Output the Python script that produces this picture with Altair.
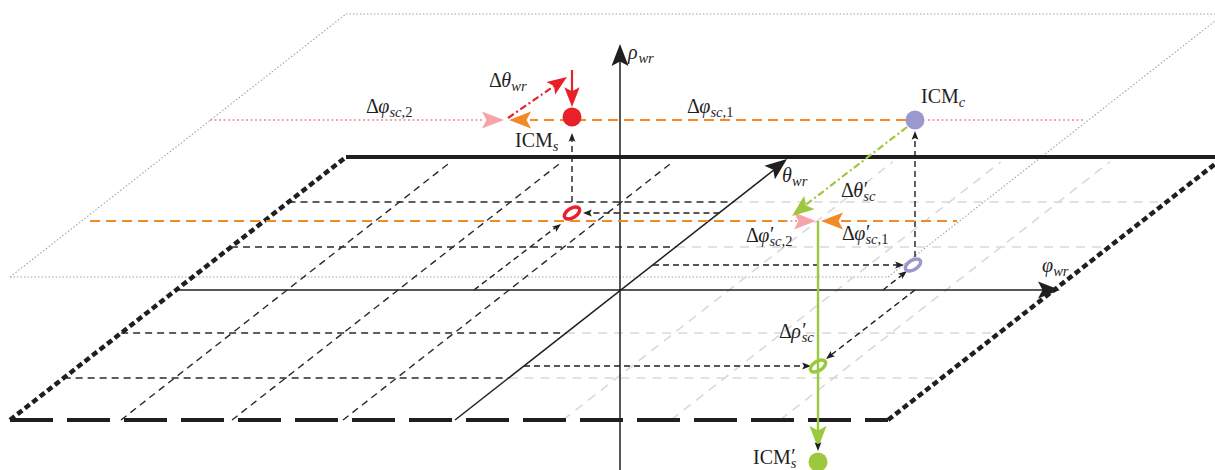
import math
import altair as alt
import pandas as pd

W, H = 1215, 470

# ---------------------------------------------------------------------------
# Geometry of the wrist frame (screen units, y grows downward)
# ---------------------------------------------------------------------------
DEPTH = (336, -263)            # full-depth step along the theta direction
NEAR_Y, FAR_Y = 420, 157       # near / far edge of the reference plane
NEAR_LEFT_X, NEAR_RIGHT_X = 10, 888
THETA_FOOT_X = 455             # theta axis meets the near edge here
UPPER_SHIFT = 143              # the dotted plane sits above the reference plane
ORIGIN = (620, 290)

GRID_Y = [202, 247, 333, 378]          # constant-theta lines
GRID_FOOT_DARK = [121, 232, 343]       # constant-phi lines, phi < 0
GRID_FOOT_LIGHT = [563, 671, 780]      # constant-phi lines, phi > 0

# points of interest
ICM_S = (572, 117)
ICM_C = (915, 120)
ICM_S2 = (818, 462)
RING_S = (572, 213)
RING_C = (913, 265)
RING_S2 = (818, 366)

UPPER_LEVEL_Y = 120
LOWER_LEVEL_Y = 221


def along(x_foot, y):
    """x of a theta-parallel line (foot on the near edge) at height y."""
    return x_foot + DEPTH[0] * (NEAR_Y - y) / -DEPTH[1]


segments = []


def seg(style, x, y, x2, y2):
    segments.append(dict(style=style, x=x, y=y, x2=x2, y2=y2))


# dotted upper plane
uy_near, uy_far = NEAR_Y - UPPER_SHIFT, FAR_Y - UPPER_SHIFT
seg("upper", NEAR_LEFT_X, uy_near, NEAR_LEFT_X + DEPTH[0], uy_far)
seg("upper", NEAR_LEFT_X + DEPTH[0], uy_far, W + 20, uy_far)
seg("upper", NEAR_LEFT_X, uy_near, NEAR_RIGHT_X, uy_near)
seg("upper", NEAR_RIGHT_X, uy_near, NEAR_RIGHT_X + DEPTH[0], uy_far)

# grid of the reference plane
for gy in GRID_Y:
    seg("grid_dark", along(NEAR_LEFT_X, gy), gy, along(THETA_FOOT_X, gy), gy)
    seg("grid_light", along(THETA_FOOT_X, gy), gy, along(NEAR_RIGHT_X, gy), gy)
for fx in GRID_FOOT_DARK:
    seg("grid_dark", fx, NEAR_Y, along(fx, FAR_Y + 5), FAR_Y + 5)
for fx in GRID_FOOT_LIGHT:
    seg("grid_light", fx, NEAR_Y, along(fx, FAR_Y + 5), FAR_Y + 5)

# borders of the reference plane
seg("edge_far", NEAR_LEFT_X + DEPTH[0], FAR_Y, W + 20, FAR_Y)
seg("edge_side", NEAR_LEFT_X, NEAR_Y, NEAR_LEFT_X + DEPTH[0], FAR_Y)
seg("edge_side", NEAR_RIGHT_X, NEAR_Y, NEAR_RIGHT_X + DEPTH[0], FAR_Y)
seg("edge_near", NEAR_LEFT_X, NEAR_Y, NEAR_RIGHT_X, NEAR_Y)

# coordinate axes
seg("axis", along(NEAR_LEFT_X, ORIGIN[1]), ORIGIN[1], 1050, ORIGIN[1])
seg("axis", ORIGIN[0], H, ORIGIN[0], 56)
seg("axis", THETA_FOOT_X, NEAR_Y, 779, 166)

# projections (black dashed) of the three instantaneous centres
seg("proj", ICM_S[0], 202, ICM_S[0], 140)
seg("proj", along(THETA_FOOT_X, RING_S[1]), RING_S[1], 590, RING_S[1])
seg("proj", 474, ORIGIN[1], 555, 228)
seg("proj", along(THETA_FOOT_X, RING_C[1]), RING_C[1], 897, RING_C[1])
seg("proj", 883, ORIGIN[1], 902, 275)
seg("proj", ICM_C[0], 257, ICM_C[0], 138)
seg("proj", 915, ORIGIN[1], 831, 355)
seg("proj", along(THETA_FOOT_X, RING_S2[1]), RING_S2[1], 804, RING_S2[1])

# coloured correction paths
seg("green", RING_S2[0], LOWER_LEVEL_Y, RING_S2[0], 436)
seg("proj", RING_S2[0], 372, RING_S2[0], 444)
seg("red", ICM_S[0], 70, ICM_S[0], 96)
seg("red_dd", 508, 118, 557, 84)
seg("orange", ICM_C[0] - 9, UPPER_LEVEL_Y, 530, UPPER_LEVEL_Y)
seg("pink", 210, UPPER_LEVEL_Y, 484, UPPER_LEVEL_Y)
seg("pink", ICM_C[0] + 13, UPPER_LEVEL_Y, 1085, UPPER_LEVEL_Y)
seg("green_dd", 907, 127, 803, 207)
seg("orange", 90, LOWER_LEVEL_Y, 786, LOWER_LEVEL_Y)
seg("pink", 786, LOWER_LEVEL_Y, 798, LOWER_LEVEL_Y)
seg("orange", 841, LOWER_LEVEL_Y, 957, LOWER_LEVEL_Y)

SEG = pd.DataFrame(segments)

BLACK = "#1f1f1f"
RED = "#e8202a"
ORANGE = "#f18a27"
PINK = "#f5a5aa"
GREEN = "#9bc83c"
PURPLE = "#9b98cd"

STYLES = {
    "upper": dict(color="#a3a3a3", strokeWidth=1.1, strokeDash=[1.5, 2]),
    "grid_light": dict(color="#d9d9d9", strokeWidth=1.6, strokeDash=[9, 7]),
    "grid_dark": dict(color="#2a2a2a", strokeWidth=1.4, strokeDash=[7, 5]),
    "edge_far": dict(color=BLACK, strokeWidth=4),
    "edge_side": dict(color=BLACK, strokeWidth=4.5, strokeDash=[6, 3.5]),
    "edge_near": dict(color=BLACK, strokeWidth=4, strokeDash=[43, 14]),
    "axis": dict(color=BLACK, strokeWidth=1.5),
    "proj": dict(color=BLACK, strokeWidth=1.4, strokeDash=[6, 4]),
    "green": dict(color=GREEN, strokeWidth=2.4),
    "red": dict(color=RED, strokeWidth=2.2),
    "red_dd": dict(color=RED, strokeWidth=2.2, strokeDash=[7, 3, 2, 3]),
    "orange": dict(color=ORANGE, strokeWidth=2.2, strokeDash=[10, 6]),
    "pink": dict(color=PINK, strokeWidth=2.2, strokeDash=[2, 2.5]),
    "green_dd": dict(color=GREEN, strokeWidth=2.2, strokeDash=[7, 3, 2, 3]),
}

XS = alt.Scale(domain=[0, W], nice=False, zero=False)
YS = alt.Scale(domain=[0, H], nice=False, zero=False, reverse=True)


def xy():
    return dict(x=alt.X("x:Q", scale=XS, axis=None),
                y=alt.Y("y:Q", scale=YS, axis=None))


layers = []
for style, kw in STYLES.items():
    part = SEG[SEG["style"] == style]
    layers.append(
        alt.Chart(part).mark_rule(clip=True, **kw).encode(
            **xy(), x2="x2:Q", y2="y2:Q"))

# ---------------------------------------------------------------------------
# Arrow heads (tip position + direction)
# ---------------------------------------------------------------------------
ARROW = "M0,0 L0.85,2.2 L0,1.75 L-0.85,2.2 Z"
UP, DOWN, LEFT, RIGHT = (0, -1), (0, 1), (-1, 0), (1, 0)
TH_FWD = DEPTH
TH_BACK = (-DEPTH[0], -DEPTH[1])

heads = [
    # kind, x, y, direction
    ("axis", 1060, ORIGIN[1], RIGHT),
    ("axis", ORIGIN[0], 44, UP),
    ("axis", 787, 159, TH_FWD),
    ("red", ICM_S[0], 107, DOWN),
    ("red", 567, 77, (59, -41)),
    ("orange", 509, UPPER_LEVEL_Y, LEFT),
    ("orange", 821, LOWER_LEVEL_Y, LEFT),
    ("pink", 504, UPPER_LEVEL_Y, RIGHT),
    ("pink", 816, LOWER_LEVEL_Y, RIGHT),
    ("green", 792, 216, (-115, 89)),
    ("green", RING_S2[0], 448, DOWN),
    ("small", ICM_S[0], 133, UP),
    ("small", ICM_C[0], 131, UP),
    ("small", 583, RING_S[1], LEFT),
    ("small", 561, 224, TH_FWD),
    ("small", 904, RING_C[1], RIGHT),
    ("small", 907, 271, TH_FWD),
    ("small", 826, 359, TH_BACK),
    ("small", 811, RING_S2[1], RIGHT),
    ("small", RING_S2[0], 451, DOWN),
]
HEAD_STYLE = {
    "axis": (BLACK, 10),
    "red": (RED, 9),
    "orange": (ORANGE, 10),
    "pink": (PINK, 10),
    "green": (GREEN, 10),
    "small": (BLACK, 4),
}
HD = pd.DataFrame([
    dict(kind=k, x=x, y=y,
         ang=(math.degrees(math.atan2(d[0], -d[1])) + 360) % 360)
    for k, x, y, d in heads
])
for kind, (col, unit) in HEAD_STYLE.items():
    layers.append(
        alt.Chart(HD[HD["kind"] == kind]).mark_point(
            shape=ARROW, filled=True, opacity=1, strokeWidth=0,
            color=col, size=(2 * unit) ** 2).encode(
            **xy(), angle=alt.Angle("ang:Q", scale=None)))

# ---------------------------------------------------------------------------
# Rings (projections) and dots (centres)
# ---------------------------------------------------------------------------
RING = "M-1,0 A1,0.55 0 1,1 1,0 A1,0.55 0 1,1 -1,0 Z"
rings = pd.DataFrame(dict(
    x=[RING_S[0], RING_C[0], RING_S2[0]],
    y=[RING_S[1], RING_C[1], RING_S2[1]],
    col=[RED, PURPLE, GREEN]))
layers.append(
    alt.Chart(rings).mark_point(
        shape=RING, filled=False, opacity=1, strokeWidth=3.4,
        size=(2 * 8.5) ** 2, angle=328).encode(
        **xy(), color=alt.Color("col:N", scale=None)))

dots = pd.DataFrame(dict(
    x=[ICM_S[0], ICM_C[0], ICM_S2[0]],
    y=[ICM_S[1], ICM_C[1], ICM_S2[1]],
    col=[RED, PURPLE, GREEN]))
layers.append(
    alt.Chart(dots).mark_point(
        shape="circle", filled=True, opacity=1, strokeWidth=0,
        size=(2 * 9.5) ** 2).encode(
        **xy(), color=alt.Color("col:N", scale=None)))

# ---------------------------------------------------------------------------
# Labels: pieces are (text, kind); R roman, I italic, S italic subscript,
# T roman subscript, P prime
# ---------------------------------------------------------------------------
FONT = "Liberation Serif"
MAIN, SUB = 20, 14.5
EM = {"I": 0.333, "C": 0.667, "M": 0.889, "Δ": 0.612, ",": 0.25, "1": 0.5,
      "2": 0.5, "s": 0.389, "c": 0.444, "w": 0.667, "r": 0.389, "φ": 0.56,
      "θ": 0.5, "ρ": 0.52, "′": 0.3}

LABELS = [
    (366, 113, [("Δ", "R"), ("φ", "I"), ("sc", "S"), (",2", "T")]),
    (489, 87, [("Δ", "R"), ("θ", "I"), ("wr", "S")]),
    (687, 113, [("Δ", "R"), ("φ", "I"), ("sc", "S"), (",1", "T")]),
    (515, 147, [("ICM", "R"), ("s", "S")]),
    (628, 59, [("ρ", "I"), ("wr", "S")]),
    (921, 103, [("ICM", "R"), ("c", "S")]),
    (782, 182, [("θ", "I"), ("wr", "S")]),
    (841, 197, [("Δ", "R"), ("θ", "I"), ("′", "P"), ("sc", "S")]),
    (746, 242, [("Δ", "R"), ("φ", "I"), ("′", "P"), ("sc", "S"), (",2", "T")]),
    (842, 240, [("Δ", "R"), ("φ", "I"), ("′", "P"), ("sc", "S"), (",1", "T")]),
    (1042, 272, [("φ", "I"), ("wr", "S")]),
    (779, 338, [("Δ", "R"), ("ρ", "I"), ("′", "P"), ("sc", "S")]),
    (753, 464, [("ICM", "R"), ("′", "P"), ("s", "S")]),
]

rows = []
for lx, ly, pieces in LABELS:
    cx = lx
    for txt, kind in pieces:
        if kind in ("R", "I"):
            rows.append(dict(x=cx, y=ly, t=txt, size=MAIN,
                             style="italic" if kind == "I" else "normal"))
            cx += sum(EM.get(ch, 0.5) for ch in txt) * MAIN
        elif kind == "P":
            rows.append(dict(x=cx + 0.5, y=ly - 1, t=txt, size=MAIN,
                             style="normal"))
        else:
            rows.append(dict(x=cx, y=ly + 4, t=txt, size=SUB,
                             style="italic" if kind == "S" else "normal"))
            cx += sum(EM.get(ch, 0.5) for ch in txt) * SUB
TXT = pd.DataFrame(rows)

for style in ("normal", "italic"):
    for size in (MAIN, SUB):
        part = TXT[(TXT["style"] == style) & (TXT["size"] == size)]
        if part.empty:
            continue
        layers.append(
            alt.Chart(part).mark_text(
                font=FONT, fontSize=size, fontStyle=style, align="left",
                baseline="alphabetic", color=BLACK).encode(
                **xy(), text="t:N"))

chart = alt.layer(*layers).properties(
    width=W, height=H, padding=0, autosize="none", background="white"
).configure_view(stroke=None)

chart.save("out.html", embed_options={"renderer": "svg", "actions": False})
